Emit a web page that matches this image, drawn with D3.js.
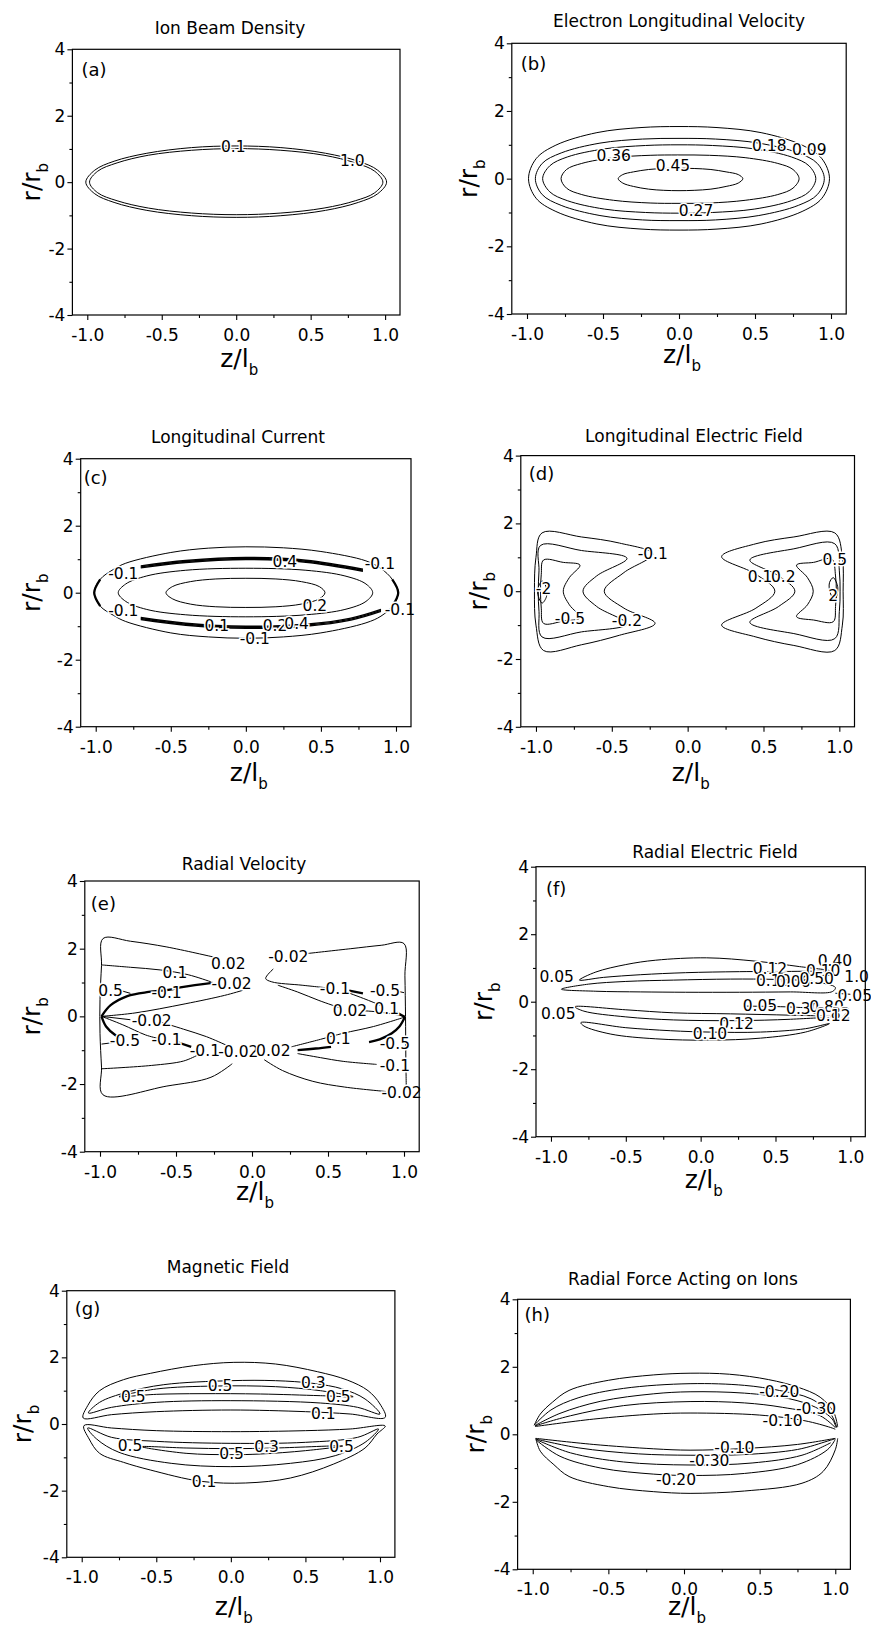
<!DOCTYPE html>
<html>
<head>
<meta charset="utf-8">
<title>Beam contours</title>
<style>
  body { margin: 0; background: #fff; }
  svg text { font-family: "DejaVu Sans", sans-serif; fill: #000; }
  .contour { fill: none; stroke: #000; stroke-width: 1; }
  .heavy { fill: none; stroke: #000; stroke-width: 2.3; }
  .band { fill: none; stroke: #000; stroke-width: 1.4; }
  .frame { fill: none; stroke: #000; stroke-width: 1.2; }
</style>
</head>
<body>
<svg id="fig" width="871" height="1630"></svg>
<script src="https://d3js.org/d3.v7.min.js"></script>
<script>
// ---- axes ----
const zTicks = [-1.0, -0.5, 0.0, 0.5, 1.0];
const zMinor = [-0.75, -0.25, 0.25, 0.75];
const rTicks = [-4, -2, 0, 2, 4];
const rMinor = [-3, -1, 1, 3];
const titles = ["Ion Beam Density", "Electron Longitudinal Velocity", "Longitudinal Current",
  "Longitudinal Electric Field", "Radial Velocity", "Radial Electric Field",
  "Magnetic Field", "Radial Force Acting on Ions"];
const letters = ["(a)", "(b)", "(c)", "(d)", "(e)", "(f)", "(g)", "(h)"];

// ---- contour traces, [z/lb, r/rb] ----
// (a) ion beam density: 0.1, 1.0
const aClosed = [
  [[-1.01,0],[-0.95,0.36],[-0.82,0.63],[-0.6,0.87],[-0.3,1.04],[0,1.09],[0.3,1.04],[0.6,0.87],[0.82,0.63],[0.95,0.36],[1.01,0],[0.95,-0.35],[0.82,-0.61],[0.6,-0.85],[0.3,-1.01],[0,-1.06],[-0.3,-1.01],[-0.6,-0.85],[-0.82,-0.61],[-0.95,-0.35]],
  [[-0.985,0],[-0.93,0.33],[-0.8,0.58],[-0.59,0.81],[-0.3,0.96],[0,1.01],[0.3,0.96],[0.59,0.81],[0.8,0.58],[0.93,0.33],[0.985,0],[0.93,-0.32],[0.8,-0.56],[0.59,-0.78],[0.3,-0.93],[0,-0.98],[-0.3,-0.93],[-0.59,-0.78],[-0.8,-0.56],[-0.93,-0.32]]
];
const aLabels = [["0.1", -0.02, 1.09], ["1.0", 0.78, 0.64]];

// (b) electron longitudinal velocity: 0.09 .. 0.45
const bClosed = [
  [[-0.99,0],[-0.94,0.59],[-0.81,0.99],[-0.54,1.36],[-0.25,1.51],[0,1.54],[0.25,1.51],[0.54,1.36],[0.81,0.99],[0.94,0.59],[0.99,0],[0.94,-0.58],[0.81,-0.97],[0.54,-1.34],[0.25,-1.49],[0,-1.52],[-0.25,-1.49],[-0.54,-1.34],[-0.81,-0.97],[-0.94,-0.58]],
  [[-0.945,0],[-0.9,0.45],[-0.775,0.76],[-0.52,1.05],[-0.24,1.17],[0,1.19],[0.24,1.17],[0.525,1.05],[0.785,0.76],[0.91,0.45],[0.956,0],[0.91,-0.47],[0.785,-0.79],[0.525,-1.09],[0.24,-1.22],[0,-1.24],[-0.24,-1.22],[-0.52,-1.09],[-0.775,-0.79],[-0.9,-0.47]],
  [[-0.897,0],[-0.85,0.38],[-0.735,0.64],[-0.49,0.88],[-0.22,0.98],[0,1.0],[0.22,0.98],[0.495,0.88],[0.74,0.64],[0.855,0.38],[0.9,0],[0.855,-0.39],[0.74,-0.65],[0.495,-0.9],[0.22,-1.0],[0,-1.02],[-0.22,-1.0],[-0.49,-0.9],[-0.735,-0.65],[-0.85,-0.39]],
  [[-0.776,0],[-0.74,0.27],[-0.64,0.45],[-0.43,0.62],[-0.19,0.69],[0,0.7],[0.2,0.69],[0.435,0.62],[0.65,0.45],[0.75,0.27],[0.79,0],[0.75,-0.28],[0.65,-0.47],[0.435,-0.64],[0.2,-0.72],[0,-0.73],[-0.19,-0.72],[-0.43,-0.64],[-0.64,-0.47],[-0.74,-0.28]],
  [[-0.4,0],[-0.37,0.12],[-0.3,0.2],[-0.2,0.27],[-0.1,0.3],[0,0.31],[0.1,0.3],[0.21,0.27],[0.31,0.2],[0.39,0.12],[0.42,0],[0.39,-0.13],[0.31,-0.23],[0.21,-0.31],[0.1,-0.345],[0,-0.355],[-0.1,-0.345],[-0.2,-0.31],[-0.3,-0.23],[-0.37,-0.13]]
];
const bLabels = [["0.45", -0.04, 0.38], ["0.36", -0.43, 0.70], ["0.18", 0.594, 0.975], ["0.09", 0.857, 0.85], ["0.27", 0.112, -0.945]];

// (c) longitudinal current
const cClosed = [
  [[-1.01,0],[-0.97,0.4],[-0.88,0.7],[-0.8,0.88],[-0.5,1.2],[-0.25,1.33],[0,1.37],[0.25,1.34],[0.5,1.23],[0.8,0.95],[0.9,0.72],[0.975,0.4],[1.015,0],[0.975,-0.4],[0.9,-0.7],[0.8,-0.9],[0.5,-1.2],[0.25,-1.32],[0,-1.36],[-0.25,-1.32],[-0.5,-1.2],[-0.8,-0.86],[-0.88,-0.68],[-0.97,-0.4]],
  [[-0.85,0],[-0.8,0.26],[-0.66,0.5],[-0.4,0.67],[0,0.73],[0.4,0.67],[0.66,0.5],[0.8,0.26],[0.845,0],[0.8,-0.26],[0.66,-0.5],[0.4,-0.66],[0,-0.72],[-0.4,-0.66],[-0.66,-0.5],[-0.8,-0.26]],
  [[-0.532,0],[-0.49,0.18],[-0.37,0.33],[-0.2,0.41],[0,0.43],[0.2,0.41],[0.37,0.33],[0.49,0.18],[0.527,0],[0.49,-0.18],[0.37,-0.34],[0.2,-0.42],[0,-0.44],[-0.2,-0.42],[-0.37,-0.34],[-0.49,-0.18]]
];
const cBands = [
  [[-0.7,0.8],[-0.4,0.96],[0,1.05],[0.4,0.97],[0.78,0.7]],
  [[-0.7,0.77],[-0.4,0.93],[0,1.02],[0.4,0.94],[0.78,0.67]],
  [[-0.7,0.74],[-0.4,0.9],[0,0.99],[0.4,0.91],[0.78,0.64]],
  [[-0.7,-0.74],[-0.4,-0.91],[0,-1.0],[0.4,-0.94],[0.7,-0.76],[0.9,-0.5]],
  [[-0.7,-0.77],[-0.4,-0.94],[0,-1.03],[0.4,-0.97],[0.7,-0.79],[0.9,-0.53]],
  [[-0.7,-0.8],[-0.4,-0.97],[0,-1.06],[0.4,-1.0],[0.7,-0.82],[0.9,-0.56]]
];
const cHeavy = [
  [[-0.97,0.4],[-1.01,0],[-0.97,-0.4]],
  [[0.975,0.4],[1.015,0],[0.975,-0.4]]
];
const cLabels = [["-0.1", 0.893, 0.88], ["0.4", 0.26, 0.93], ["-0.1", -0.816, 0.58], ["0.2", 0.46, -0.37],
  ["-0.1", -0.816, -0.52], ["0.1", -0.194, -0.99], ["0.2", 0.194, -0.99], ["0.4", 0.338, -0.93],
  ["-0.1", 0.06, -1.36], ["-0.1", 1.026, -0.5]];

// (d) longitudinal electric field
const dClosed = [
  [[-0.96,1.72],[-0.7,1.6],[-0.45,1.42],[-0.23,1.1],[-0.42,0.55],[-0.55,0],[-0.42,-0.5],[-0.215,-0.95],[-0.45,-1.3],[-0.7,-1.58],[-0.95,-1.75],[-1.0,-1.0],[-1.01,0],[-1.0,1.0]],
  [[-0.97,1.35],[-0.7,1.2],[-0.4,0.97],[-0.6,0.45],[-0.69,0],[-0.6,-0.45],[-0.4,-0.97],[-0.7,-1.2],[-0.96,-1.35],[-0.98,-0.6],[-0.985,0],[-0.98,0.6]],
  [[-0.95,0.92],[-0.82,0.85],[-0.71,0.77],[-0.78,0.4],[-0.82,0],[-0.78,-0.4],[-0.71,-0.78],[-0.82,-0.88],[-0.95,-0.95],[-0.965,-0.5],[-0.97,0],[-0.965,0.5]],
  [[-0.96,0.3],[-0.99,0],[-0.96,-0.35],[-0.93,-0.15],[-0.935,0.15]],
  [[0.97,1.72],[0.7,1.6],[0.45,1.4],[0.224,1.02],[0.45,0.5],[0.575,0],[0.45,-0.5],[0.224,-1.0],[0.45,-1.35],[0.7,-1.6],[0.97,-1.75],[1.02,-1.0],[1.025,0],[1.02,1.0]],
  [[0.97,1.4],[0.7,1.25],[0.41,0.92],[0.6,0.45],[0.707,0],[0.6,-0.45],[0.41,-0.92],[0.7,-1.25],[0.97,-1.4],[1.0,-0.6],[1.005,0],[1.0,0.6]],
  [[0.95,0.95],[0.83,0.85],[0.718,0.77],[0.79,0.4],[0.828,0],[0.79,-0.4],[0.718,-0.75],[0.83,-0.85],[0.96,-0.9],[0.975,-0.45],[0.98,0],[0.975,0.45]],
  [[0.96,0.4],[0.99,0.1],[0.97,-0.25],[0.94,-0.05],[0.935,0.25]]
];
const dLabels = [["-0.1", -0.23, 1.10], ["-2", -0.95, 0.08], ["-0.5", -0.776, -0.80], ["-0.2", -0.40, -0.85],
  ["0.1", 0.477, 0.43], ["0.2", 0.63, 0.43], ["0.5", 0.97, 0.94], ["2", 0.96, -0.11]];

// (e) radial velocity
const eOpen = [
  [[-0.25,1.75],[-0.56,2.05],[-0.8,2.22],[-0.98,2.3],[-0.99,1.5],[-1.0,0.5],[-1.0,-0.5],[-0.99,-1.5],[-0.98,-2.32],[-0.56,-2.06],[-0.27,-1.8],[-0.13,-1.4]],
  [[-0.99,1.52],[-0.8,1.45],[-0.6,1.37],[-0.42,1.23],[-0.27,1.02]],
  [[-0.87,0.77],[-0.8,0.68]],
  [[-0.99,0.0],[-0.77,0.1],[-0.44,0.37],[-0.18,0.62],[-0.06,0.77]],
  [[-0.99,0.0],[-0.8,-0.1]],
  [[-0.99,-0.82],[-0.92,-0.78]],
  [[-0.99,0.0],[-0.85,-0.25],[-0.7,-0.55],[-0.62,-0.65]],
  [[-0.6,-0.17],[-0.45,-0.38],[-0.3,-0.6],[-0.17,-0.85]],
  [[-0.99,-1.55],[-0.66,-1.45],[-0.45,-1.32],[-0.36,-1.15]],
  [[0.37,1.86],[0.65,2.0],[0.85,2.1],[1.0,2.15],[1.006,1.2],[1.01,0],[1.012,-1.2],[1.015,-2.1]],
  [[0.08,-1.28],[0.2,-1.6],[0.4,-1.92],[0.61,-2.09],[0.88,-2.22]],
  [[0.14,1.4],[0.09,1.12],[0.13,1.02],[0.33,0.92],[0.5,0.84]],
  [[0.95,0.75],[1.0,0.7]],
  [[0.17,0.92],[0.3,0.72],[0.44,0.47],[0.58,0.25]],
  [[0.62,0.72],[0.75,0.5],[0.86,0.3]],
  [[1.006,0.0],[0.85,0.12],[0.72,0.17]],
  [[1.006,-0.02],[0.8,-0.3],[0.6,-0.5],[0.45,-0.68],[0.26,-0.9]],
  [[0.3,-1.1],[0.45,-1.22],[0.6,-1.33],[0.82,-1.42]]
];
const eHeavy = [
  [[-0.99,0.0],[-0.93,0.33],[-0.82,0.6],[-0.68,0.72],[-0.55,0.78],[-0.45,0.87],[-0.26,0.99]],
  [[-0.99,0.0],[-0.96,-0.3],[-0.9,-0.55],[-0.87,-0.62]],
  [[-0.5,-0.75],[-0.4,-0.9]],
  [[0.64,0.76],[0.73,0.68]],
  [[0.95,0.12],[1.006,-0.02]],
  [[1.006,-0.02],[0.97,-0.3],[0.92,-0.5],[0.84,-0.68],[0.77,-0.76]],
  [[0.3,-1.0],[0.42,-0.95],[0.52,-0.9]]
];
const eLabels = [["0.02", -0.156, 1.56], ["-0.02", 0.239, 1.76], ["0.1", -0.507, 1.31], ["-0.02", -0.134, 0.97],
  ["0.5", -0.93, 0.77], ["-0.1", -0.562, 0.72], ["-0.1", 0.546, 0.82], ["-0.5", 0.875, 0.77],
  ["-0.02", -0.66, -0.12], ["0.02", 0.644, 0.18], ["0.1", 0.886, 0.23], ["-0.5", -0.836, -0.71],
  ["-0.1", -0.562, -0.69], ["-0.1", -0.31, -1.0], ["-0.02", -0.09, -1.05], ["0.02", 0.14, -1.0],
  ["0.1", 0.568, -0.66], ["-0.5", 0.94, -0.81], ["-0.1", 0.94, -1.45], ["-0.02", 0.984, -2.24]];

// (f) radial electric field
const fClosed = [
  [[-0.81,0.64],[-0.7,0.88],[-0.5,1.1],[-0.3,1.23],[0.04,1.3],[0.37,1.2],[0.66,1.04],[0.86,0.92],[0.65,0.9],[0.26,0.89],[-0.1,0.86],[-0.4,0.8],[-0.65,0.72]],
  [[-0.93,0.37],[-0.75,0.52],[-0.5,0.6],[-0.18,0.64],[0.2,0.67],[0.5,0.66],[0.75,0.6],[0.9,0.42],[0.88,0.3],[0.6,0.29],[0.26,0.28],[-0.1,0.28],[-0.4,0.29],[-0.7,0.31]],
  [[-0.84,-0.15],[-0.5,-0.24],[-0.18,-0.33],[0.2,-0.36],[0.6,-0.4],[0.88,-0.44],[0.6,-0.52],[0.24,-0.56],[-0.18,-0.54],[-0.5,-0.45],[-0.78,-0.28]],
  [[-0.8,-0.62],[-0.5,-0.77],[-0.2,-0.86],[0.06,-0.9],[0.4,-0.9],[0.7,-0.8],[0.86,-0.65],[0.7,-0.9],[0.4,-1.08],[0.06,-1.14],[-0.3,-1.1],[-0.6,-0.96],[-0.78,-0.72]]
];
const fOpen = [
  [[0.3,-0.13],[0.55,-0.15],[0.8,-0.2]],
  [[0.9,0.25],[1.0,0.22]]
];
const fLabels = [["0.05", -0.962, 0.74], ["0.12", 0.463, 0.99], ["0.40", 0.897, 1.235], ["0.10", 0.819, 0.94],
  ["0.10", 0.485, 0.64], ["0.06", 0.619, 0.61], ["0.50", 0.775, 0.69], ["1.0", 1.042, 0.74],
  ["0.05", 1.03, 0.20], ["0.05", -0.951, -0.345], ["0.05", 0.396, -0.10], ["0.30", 0.686, -0.20],
  ["0.80", 0.841, -0.15], ["0.82", 0.886, -0.345], ["0.12", 0.886, -0.42], ["0.12", 0.24, -0.64],
  ["0.10", 0.062, -0.94]];

// (g) magnetic field
const gClosed = [
  [[-0.99,0.18],[-0.96,0.55],[-0.88,1.0],[-0.72,1.33],[-0.54,1.52],[-0.25,1.75],[0.02,1.85],[0.3,1.8],[0.58,1.57],[0.78,1.32],[0.92,1.0],[1.0,0.6],[1.035,0.2],[0.8,0.3],[0.5,0.37],[0,0.42],[-0.5,0.37],[-0.8,0.28]],
  [[-0.955,0.33],[-0.88,0.65],[-0.7,0.95],[-0.45,1.18],[0,1.3],[0.3,1.3],[0.55,1.22],[0.75,1.05],[0.9,0.75],[1.0,0.3],[0.85,0.5],[0.6,0.63],[0,0.7],[-0.5,0.65],[-0.8,0.5]],
  [[-0.75,0.82],[-0.5,1.05],[-0.1,1.14],[0.3,1.12],[0.6,1.0],[0.82,0.82],[0.6,0.85],[0.2,0.9],[-0.2,0.91],[-0.5,0.89]],
  [[-0.985,-0.05],[-0.95,-0.45],[-0.88,-0.88],[-0.72,-1.15],[-0.54,-1.38],[-0.2,-1.72],[0.1,-1.77],[0.4,-1.62],[0.69,-1.2],[0.9,-0.72],[0.98,-0.3],[1.035,-0.06],[0.8,-0.15],[0.5,-0.2],[0,-0.23],[-0.5,-0.2],[-0.8,-0.12]],
  [[-0.96,-0.12],[-0.8,-0.4],[-0.5,-0.52],[0,-0.58],[0.5,-0.55],[0.85,-0.4],[0.99,-0.15],[0.9,-0.55],[0.7,-0.95],[0.4,-1.18],[0,-1.28],[-0.4,-1.18],[-0.75,-0.85],[-0.9,-0.45]],
  [[-0.6,-0.68],[-0.3,-0.72],[0,-0.74],[0.3,-0.72],[0.75,-0.66],[0.5,-0.8],[0.2,-0.9],[0,-0.92],[-0.3,-0.88]]
];
const gLabels = [["0.5", -0.654, 0.84], ["0.5", -0.073, 1.15], ["0.3", 0.553, 1.25], ["0.5", 0.72, 0.82],
  ["0.1", 0.62, 0.32], ["0.5", -0.676, -0.63], ["0.3", 0.24, -0.68], ["0.5", 0.005, -0.88],
  ["0.5", 0.742, -0.68], ["0.1", -0.18, -1.73]];

// (h) radial force acting on ions
const hOpen = [
  [[-0.99,0.27],[-0.95,0.6],[-0.87,0.95],[-0.76,1.3],[-0.5,1.6],[-0.2,1.76],[0.04,1.81],[0.3,1.78],[0.56,1.62],[0.75,1.4],[0.9,1.1],[0.99,0.65],[1.016,0.22]],
  [[-0.99,0.27],[-0.88,0.72],[-0.7,1.08],[-0.4,1.36],[0.04,1.5],[0.4,1.45],[0.63,1.3],[0.84,1.05],[0.97,0.6],[1.01,0.2]],
  [[-0.985,0.26],[-0.82,0.62],[-0.55,0.98],[-0.2,1.2],[0.04,1.26],[0.4,1.22],[0.7,1.05],[0.87,0.8],[0.98,0.45],[1.005,0.2]],
  [[-0.985,0.25],[-0.75,0.55],[-0.4,0.85],[0.04,0.97],[0.4,0.93],[0.65,0.8],[0.9,0.55],[1.0,0.2]],
  [[-0.985,0.23],[-0.6,0.45],[-0.2,0.6],[0.04,0.63],[0.5,0.57],[0.8,0.4],[0.97,0.2],[1.0,0.15]],
  [[-0.98,-0.12],[-0.6,-0.3],[-0.2,-0.43],[0.04,-0.47],[0.4,-0.42],[0.75,-0.3],[1.0,-0.12]],
  [[-0.98,-0.14],[-0.7,-0.4],[-0.3,-0.58],[0.04,-0.62],[0.4,-0.6],[0.75,-0.45],[0.95,-0.2],[1.0,-0.13]],
  [[-0.975,-0.16],[-0.75,-0.55],[-0.4,-0.82],[0.04,-0.91],[0.45,-0.85],[0.78,-0.62],[0.97,-0.25]],
  [[-0.975,-0.18],[-0.82,-0.65],[-0.55,-1.0],[-0.2,-1.18],[0.04,-1.22],[0.4,-1.16],[0.75,-0.9],[0.95,-0.45],[1.0,-0.15]],
  [[-0.98,-0.12],[-0.95,-0.5],[-0.86,-0.9],[-0.76,-1.25],[-0.5,-1.55],[-0.2,-1.7],[0.04,-1.75],[0.4,-1.68],[0.78,-1.45],[0.92,-1.1],[1.0,-0.46],[1.016,-0.12]]
];
const hLabels = [["-0.20", 0.63, 1.26], ["-0.30", 0.873, 0.77], ["-0.10", 0.652, 0.42],
  ["-0.10", 0.333, -0.40], ["-0.30", 0.168, -0.78], ["-0.20", -0.053, -1.33]];

// ---- page layout (pixel boxes of each panel) ----
const layout = [
  { frame: [72.4, 49.3, 400, 315],      title: [230, 34],   letter: [9, 27],  xlab: 52, ylab: 40,  closed: aClosed, labels: aLabels },
  { frame: [511.8, 43.3, 846.2, 314],   title: [679, 27],   letter: [9, 27],  xlab: 49, ylab: 477, closed: bClosed, labels: bLabels },
  { frame: [80.7, 458.7, 411, 726.7],   title: [238, 443],  letter: [3, 25],  xlab: 54, ylab: 40,  closed: cClosed, band: cBands, heavy: cHeavy, labels: cLabels },
  { frame: [520.8, 455.6, 854.5, 726.8],title: [694, 442],  letter: [8, 24],  xlab: 54, ylab: 487, closed: dClosed, labels: dLabels },
  { frame: [84.8, 881, 419.2, 1151.7],  title: [244, 870],  letter: [6, 29],  xlab: 48, ylab: 40,  open: eOpen, heavy: eHeavy, labels: eLabels },
  { frame: [536, 866.7, 865.3, 1136.7], title: [715, 858],  letter: [10, 28], xlab: 51, ylab: 492, closed: fClosed, open: fOpen, labels: fLabels },
  { frame: [66.8, 1290.7, 394.9, 1557.3], title: [228, 1273], letter: [8, 24], xlab: 58, ylab: 31, closed: gClosed, labels: gLabels },
  { frame: [517.6, 1299.3, 850.4, 1569.3], title: [683, 1285], letter: [7, 22], xlab: 46, ylab: 484, open: hOpen, labels: hLabels }
];

const svg = d3.select("#fig");
svg.append("rect").attr("width", 871).attr("height", 1630).attr("fill", "#fff");

layout.forEach((p, i) => {
  const [L, T, R, B] = p.frame;
  const x = d3.scaleLinear().domain([-1.1, 1.1]).range([L, R]);
  const y = d3.scaleLinear().domain([-4, 4]).range([B, T]);
  const g = svg.append("g");

  const clipId = "clip" + i;
  g.append("clipPath").attr("id", clipId)
    .append("rect").attr("x", L).attr("y", T).attr("width", R - L).attr("height", B - T);
  const plot = g.append("g").attr("clip-path", `url(#${clipId})`);

  const closedLine = d3.line().x(d => x(d[0])).y(d => y(d[1])).curve(d3.curveCatmullRomClosed.alpha(0.5));
  const openLine = d3.line().x(d => x(d[0])).y(d => y(d[1])).curve(d3.curveCatmullRom.alpha(0.5));

  plot.selectAll("path.cl").data(p.closed || []).join("path")
    .attr("class", "contour").attr("d", closedLine);
  plot.selectAll("path.op").data(p.open || []).join("path")
    .attr("class", "contour").attr("d", openLine);
  plot.selectAll("path.bd").data(p.band || []).join("path")
    .attr("class", "band").attr("d", openLine);
  plot.selectAll("path.hv").data(p.heavy || []).join("path")
    .attr("class", "heavy").attr("d", openLine);

  // inline contour labels, white halo breaks the line under them
  g.append("g").selectAll("text").data(p.labels).join("text")
    .attr("x", d => x(d[1])).attr("y", d => y(d[2]))
    .attr("dy", "0.36em").attr("text-anchor", "middle")
    .attr("font-size", 15.5)
    .attr("stroke", "#fff").attr("stroke-width", 3).attr("paint-order", "stroke")
    .text(d => d[0]);

  g.append("rect").attr("class", "frame")
    .attr("x", L).attr("y", T).attr("width", R - L).attr("height", B - T);

  // axes
  const xa = g.append("g").attr("transform", `translate(0,${B})`)
    .call(d3.axisBottom(x).tickValues(zTicks).tickSize(5).tickFormat(d => d.toFixed(1)));
  xa.append("g").call(d3.axisBottom(x).tickValues(zMinor).tickSize(3).tickFormat(""));
  xa.selectAll(".domain").remove();
  xa.attr("font-size", 17).attr("font-family", "DejaVu Sans");
  xa.selectAll("text").attr("y", 26).attr("dy", null);

  const ya = g.append("g").attr("transform", `translate(${L},0)`)
    .call(d3.axisLeft(y).tickValues(rTicks).tickSize(5).tickPadding(2).tickFormat(d => String(d)));
  ya.append("g").call(d3.axisLeft(y).tickValues(rMinor).tickSize(3).tickFormat(""));
  ya.selectAll(".domain").remove();
  ya.attr("font-size", 17).attr("font-family", "DejaVu Sans");
  g.selectAll(".tick line").attr("stroke-width", 1.1);

  // titles
  g.append("text").attr("x", p.title[0]).attr("y", p.title[1])
    .attr("text-anchor", "middle").attr("font-size", 17).text(titles[i]);
  g.append("text").attr("x", L + p.letter[0]).attr("y", T + p.letter[1])
    .attr("font-size", 18).text(letters[i]);

  const xt = g.append("text").attr("x", x(0) + 3).attr("y", B + p.xlab)
    .attr("text-anchor", "middle").attr("font-size", 25);
  xt.append("tspan").text("z/l");
  xt.append("tspan").attr("dy", 8).attr("font-size", 15).text("b");

  const yt = g.append("text")
    .attr("transform", `translate(${p.ylab},${y(0)}) rotate(-90)`)
    .attr("text-anchor", "middle").attr("font-size", 25);
  yt.append("tspan").text("r/r");
  yt.append("tspan").attr("dy", 8).attr("font-size", 15).text("b");
});
</script>
</body>
</html>
